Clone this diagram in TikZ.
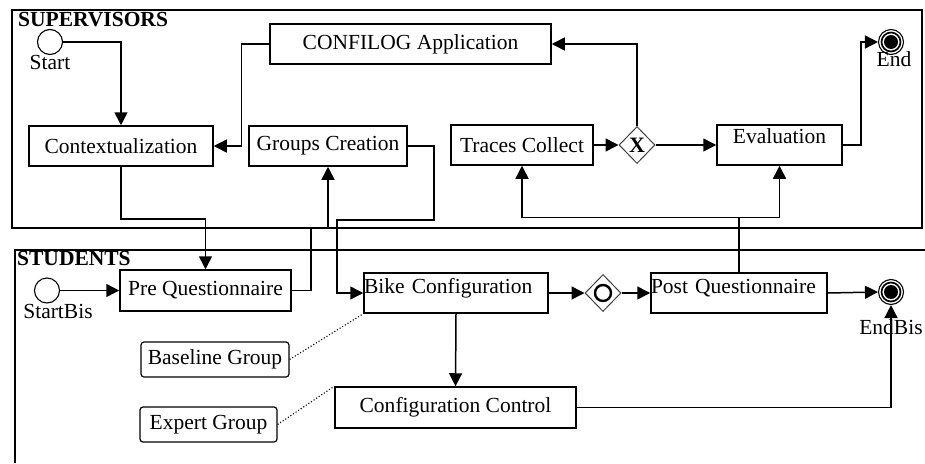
\documentclass[tikz,border=0pt]{standalone}
\usepackage{fontspec}
\setmainfont{Liberation Serif}
\usetikzlibrary{arrows.meta,shapes.geometric}

\definecolor{gwline}{rgb}{0.25,0.25,0.25}

\begin{document}
\begin{tikzpicture}[x=1pt,y=-1pt,
    font=\fontsize{21.5}{24}\selectfont,
    task/.style={draw, line width=1.5pt, rectangle, inner sep=0pt},
    note/.style={draw, line width=1.2pt, rectangle, rounded corners=3pt, inner sep=0pt},
    event/.style={draw, line width=1.1pt, circle, inner sep=0pt, minimum size=25pt},
    gateway/.style={draw=gwline, line width=1pt, diamond, inner sep=0pt, minimum width=36pt, minimum height=37pt},
    flow/.style={line width=1.5pt, -{Triangle[length=13pt,width=13pt]}},
    assoc/.style={line width=1.1pt, dotted},
    lane/.style={line width=1.5pt},
    every label/.style={inner sep=0pt}]
    \useasboundingbox (0,0) rectangle (925,463);

    \draw[lane] (12,10) rectangle (922,228);
    \draw[lane] (15,463) -- (15,250) -- (925,250);
    \node[anchor=north west, inner sep=0pt, font=\fontsize{21.5}{24}\selectfont\bfseries] (suplbl) at (18,12) {SUPERVISORS};
    \node[anchor=north west, inner sep=0pt, font=\fontsize{21.5}{24}\selectfont\bfseries] (stulbl) at (17,251.5) {STUDENTS};

    \node[event, label={[label distance=0pt]below:Start}] (start) at (50,42) {};
    \node[task, minimum width=184pt, minimum height=40pt] (ctx) at (121,146) {Contextualization};
    \node[task, minimum width=281pt, minimum height=40pt] (app) at (410.5,44) {CONFILOG Application};
    \node[task, minimum width=158pt, minimum height=40pt] (grp) at (328,146) {Groups Creation};
    \node[task, minimum width=142pt, minimum height=40pt] (trc) at (522,145) {Traces Collect};
    \node[gateway, font=\fontsize{22}{24}\selectfont\bfseries] (xor) at (637,145) {X};
    \node[task, minimum width=125pt, minimum height=40pt, text depth=18pt] (eval) at (779.5,145) {Evaluation};
    \node[event, label={[label distance=-4pt, xshift=3pt]below:End}] (end) at (891,42) {};
    \draw[line width=1.7pt] (end) circle (9.5pt);
    \fill (end) circle (7pt);

    \node[event, label={[label distance=1pt, xshift=11pt]below:StartBis}] (startb) at (47,290.5) {};
    \node[task, minimum width=171pt, minimum height=41pt] (preq) at (205.5,290.5) {Pre Questionnaire};
    \node[task, text width=184pt, align=left, minimum height=40pt, text depth=14pt] (bike) at (456,293) {Bike Configuration};
    \node[gateway] (orgw) at (603,293) {};
    \draw[line width=2.4pt] (orgw) circle (8pt);
    \node[task, text width=176pt, align=left, minimum height=40pt, text depth=14pt] (postq) at (739,293) {Post Questionnaire};
    \node[event, label={[label distance=14pt, xshift=0pt]below:EndBis}] (endb) at (891,292) {};
    \draw[line width=1.7pt] (endb) circle (9.5pt);
    \fill (endb) circle (7pt);
    \node[task, minimum width=241pt, minimum height=41pt] (ctrl) at (455.5,407.5) {Configuration Control};
    \node[note, minimum width=148pt, minimum height=35pt] (base) at (215,359.5) {Baseline Group};
    \node[note, minimum width=137pt, minimum height=35pt] (expert) at (208.5,424.5) {Expert Group};

    \draw[flow] (start.east) -| (ctx.north);
    \draw[flow] (app.west) -- ++(-28,0) |- (ctx.east);
    \draw[flow] (trc.east) -- (xor.west);
    \draw[flow] (xor.north) |- (app.east);
    \draw[flow] (xor.east) -- (eval.west);
    \draw[flow] (eval.east) -- ++(18,0) |- (end.west);
    \draw[flow] (ctx.south) -- ++(0,52) -| (preq.north);
    \draw[flow] (startb.east) -- (preq.west);
    \draw[flow] (preq.east) -| ++(19,-62) -| (grp.south);
    \draw[flow] (grp.east) -| (434,220) -| (337,293) -- (bike.west);
    \draw[flow] (bike.east) -- (orgw.west);
    \draw[flow] (orgw.east) -- (postq.west);
    \draw[flow] (postq.north) -- ++(0,-55) -| (trc.south);
    \draw[flow] (postq.north) -- ++(0,-55) -| (eval.south);
    \draw[flow] (postq.east) -- (endb.west);
    \draw[flow] (bike.south) -- (ctrl.north);
    \draw[flow] (ctrl.east) -| (endb.south);
    \draw[assoc] (base.east) -- (bike.south west);
    \draw[assoc] (expert.east) -- (ctrl.north west);
\end{tikzpicture}
\end{document}
